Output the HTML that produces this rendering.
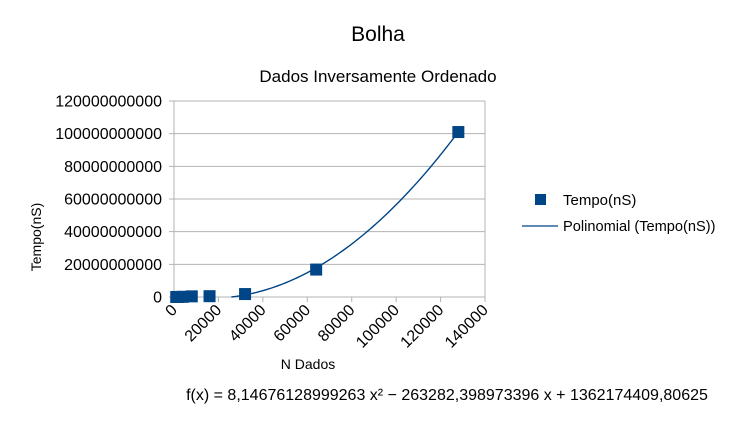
<!DOCTYPE html>
<html><head><meta charset="utf-8"><style>
body{margin:0;background:#fff;font-family:"Liberation Sans",sans-serif}
svg text{font-family:"Liberation Sans",sans-serif}
</style></head><body>
<svg width="756" height="425">
<text x="378" y="41" font-size="21" text-anchor="middle">Bolha</text>
<text x="378" y="82" font-size="17" text-anchor="middle">Dados Inversamente Ordenado</text>
<g id="plot"></g>
<text x="41" y="237" font-size="14" text-anchor="middle" transform="rotate(-90 41 237)">Tempo(nS)</text>
<text x="308" y="369" font-size="14" text-anchor="middle">N Dados</text>
<text x="447" y="400" font-size="16" text-anchor="middle">f(x) = 8,14676128999263 x² − 263282,398973396 x + 1362174409,80625</text>
<rect x="535" y="194" width="11" height="11" fill="#004586"/>
<text x="563" y="205" font-size="15">Tempo(nS)</text>
<line x1="522" y1="226" x2="558" y2="226" stroke="#004586" stroke-width="1.3"/>
<text x="563" y="231" font-size="14.6">Polinomial (Tempo(nS))</text>
</svg>
<script>
const xVals=[1000,2000,4000,8000,16000,32000,64000,128000];
const yVals=[0.01e9,0.03e9,0.12e9,0.4e9,0.5e9,1.8e9,16.8e9,101e9];
const yTicks=[0,20e9,40e9,60e9,80e9,100e9,120e9];
const yTickLabels=["0","20000000000","40000000000","60000000000","80000000000","100000000000","120000000000"];
const xTicks=[0,20000,40000,60000,80000,100000,120000,140000];
const coef=[8.14676128999263,-263282.398973396,1362174409.80625];
const NS="http://www.w3.org/2000/svg";
const X0=174,X1=485,Y0=297,Y1=101;
const sx=v=>X0+(v/140000)*(X1-X0);
const sy=v=>Y0-(v/120e9)*(Y0-Y1);
const g=document.getElementById('plot');
function mk(t,a){const e=document.createElementNS(NS,t);for(const k in a)e.setAttribute(k,a[k]);g.appendChild(e);return e;}
yTicks.forEach((t,i)=>{
 const l=mk('line',{x1:X0-5,x2:X1,y1:sy(t),y2:sy(t),stroke:'#b3b3b3','stroke-width':1});
 
 
 const tx=mk('text',{x:162,y:sy(t)+5.5,'font-size':16,'text-anchor':'end'});tx.textContent=yTickLabels[i];
 
 
});
const ya=mk('line',{x1:X0,x2:X0,y1:Y1,y2:Y0,stroke:'#b3b3b3'});


const xa=mk('line',{x1:X1,x2:X1,y1:Y1,y2:Y0,stroke:'#b3b3b3'});


xTicks.forEach(t=>{
 const l=mk('line',{x1:sx(t),x2:sx(t),y1:Y0,y2:Y0+5,stroke:'#b3b3b3'});
 
 
 const x=sx(t)+4,y=Y0+14;
 const tx=mk('text',{x:x,y:y,'font-size':16,'text-anchor':'end',transform:`rotate(-45 ${x} ${y})`});tx.textContent=t;
 
 
});
const f=x=>coef[0]*x*x+coef[1]*x+coef[2];
const disc=coef[1]*coef[1]-4*coef[0]*coef[2];
const r=(-coef[1]+Math.sqrt(disc))/(2*coef[0]);
let d='';for(let i=0;i<=100;i++){const x=r+(xVals[xVals.length-1]-r)*i/100;d+=(i?'L':'M')+sx(x).toFixed(2)+','+sy(Math.max(0,f(x))).toFixed(2);}
const p=mk('path',{d:d,fill:'none',stroke:'#004586','stroke-width':1.4});


xVals.forEach((x,i)=>{
 const m=mk('rect',{x:sx(x)-6,y:sy(yVals[i])-6,width:12,height:12,fill:'#004586'});
 
 
});
</script>
</body></html>
